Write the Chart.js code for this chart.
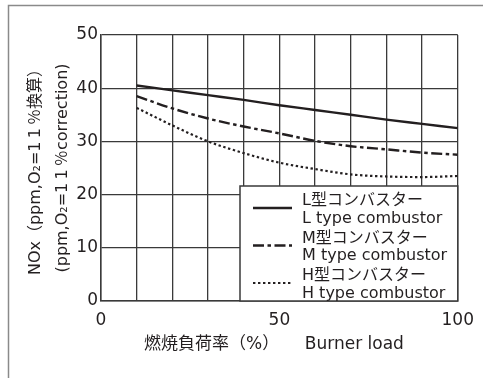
<!DOCTYPE html>
<html>
<head>
<meta charset="utf-8">
<script src="https://cdn.jsdelivr.net/npm/chart.js@4.4.1/dist/chart.umd.min.js"></script>
<style>
  body { margin: 0; background: #fff; }
  #wrap { width: 483px; height: 378px; }
</style>
</head>
<body>
<div id="wrap"><canvas id="chartCanvas" width="483" height="378"></canvas></div>
<script>
var loads = [10, 20, 30, 40, 50, 60, 70, 80, 90, 100];
var lTypeNox = [40.5, 39.6, 38.7, 37.8, 36.8, 35.9, 35.0, 34.1, 33.3, 32.5];
var mTypeNox = [38.5, 36.2, 34.3, 32.8, 31.5, 30.1, 29.1, 28.5, 27.9, 27.5];
var hTypeNox = [36.3, 33.0, 30.0, 27.8, 26.0, 24.8, 23.8, 23.4, 23.3, 23.5];

var seriesNames = [
  ["L型コンバスター", "L type combustor"],
  ["M型コンバスター", "M type combustor"],
  ["H型コンバスター", "H type combustor"]
];
var yTitle = ["NOx（ppm,O₂=1\u20091\u2009％換算）", "(ppm,O₂=1\u20091\u2009％correction)"];
var xTitle = "燃焼負荷率（%）\u3000\u3000Burner load  ";

var fontFamily = "'DejaVu Sans', 'Noto Sans CJK JP', sans-serif";
var ink = "#231f20";

function toPoints(values) {
  return values.map(function (v, i) { return { x: loads[i], y: v }; });
}

// grey outer frame + white page
var framePlugin = {
  id: "frame",
  beforeDraw: function (chart) {
    var ctx = chart.ctx;
    ctx.save();
    ctx.fillStyle = "#fff";
    ctx.fillRect(0, 0, chart.width, chart.height);
    ctx.strokeStyle = "#8a8a8a";
    ctx.lineWidth = 1.5;
    ctx.strokeRect(8.5, 5.5, chart.width + 20, chart.height + 20);
    ctx.restore();
  }
};

// boxed legend in lower right corner of the plot
var legendBox = {
  id: "legendBox",
  afterDraw: function (chart) {
    var ctx = chart.ctx, area = chart.chartArea;
    var x0 = area.left + 139, y0 = area.top + 151;
    ctx.save();
    ctx.fillStyle = "#fff";
    ctx.fillRect(x0, y0, area.right - x0, area.bottom - y0);
    ctx.strokeStyle = "#3a3a3a";
    ctx.lineWidth = 1.5;
    ctx.strokeRect(x0, y0, area.right - x0, area.bottom - y0);

    ctx.font = "16px " + fontFamily;
    ctx.textBaseline = "middle";
    ctx.fillStyle = ink;
    chart.data.datasets.forEach(function (ds, i) {
      var cy = y0 + 22 + i * 37.5;
      ctx.beginPath();
      ctx.strokeStyle = ds.borderColor;
      ctx.lineWidth = ds.borderWidth;
      ctx.setLineDash(ds.borderDash || []);
      ctx.moveTo(x0 + 13, cy);
      ctx.lineTo(x0 + 52, cy);
      ctx.stroke();
      ctx.setLineDash([]);
      ctx.fillText(seriesNames[i][0], x0 + 62, cy - 7);
      ctx.fillText(seriesNames[i][1], x0 + 62, cy + 10.5);
    });
    ctx.restore();
  }
};

var ctx = document.getElementById("chartCanvas");
var noxChart = new Chart(ctx, {
  type: "line",
  data: {
    datasets: [
      {
        label: seriesNames[0].join(" "),
        data: toPoints(lTypeNox),
        borderColor: ink,
        borderWidth: 2.4,
        pointRadius: 0,
        cubicInterpolationMode: "monotone"
      },
      {
        label: seriesNames[1].join(" "),
        data: toPoints(mTypeNox),
        borderColor: ink,
        borderWidth: 2.4,
        borderDash: [11, 3.5, 3.5, 3.5],
        pointRadius: 0,
        cubicInterpolationMode: "monotone"
      },
      {
        label: seriesNames[2].join(" "),
        data: toPoints(hTypeNox),
        borderColor: ink,
        borderWidth: 2.2,
        borderDash: [2.4, 2.6],
        pointRadius: 0,
        cubicInterpolationMode: "monotone"
      }
    ]
  },
  options: {
    responsive: false,
    animation: false,
    layout: { padding: { left: 0, right: 24, top: 35, bottom: 0 } },
    plugins: {
      legend: { display: false },
      tooltip: { enabled: false }
    },
    scales: {
      x: {
        type: "linear",
        min: 0,
        max: 100,
        afterFit: function (scale) { scale.height = 77; },
        border: { color: "#3a3a3a", width: 1.5 },
        grid: { color: "#3a3a3a", lineWidth: 1.3, drawTicks: false },
        ticks: {
          stepSize: 10,
          autoSkip: false,
          maxRotation: 0,
          padding: 9,
          color: ink,
          font: { family: fontFamily, size: 17 },
          callback: function (v) { return v % 50 === 0 ? v : ""; }
        },
        title: {
          display: true,
          text: xTitle,
          color: ink,
          padding: { top: 0, bottom: 23 },
          font: { family: fontFamily, size: 17, lineHeight: 1.2 }
        }
      },
      y: {
        min: 0,
        max: 50,
        afterFit: function (scale) { scale.width = 101; },
        border: { color: "#3a3a3a", width: 1.5 },
        grid: { color: "#3a3a3a", lineWidth: 1.3, drawTicks: false },
        ticks: {
          stepSize: 10,
          padding: 3,
          color: ink,
          font: { family: fontFamily, size: 17 }
        },
        title: {
          display: true,
          text: yTitle,
          color: ink,
          padding: { top: 23, bottom: 0 },
          font: { family: fontFamily, size: 16, lineHeight: 1.65 }
        }
      }
    }
  },
  plugins: [framePlugin, legendBox]
});
</script>
</body>
</html>
